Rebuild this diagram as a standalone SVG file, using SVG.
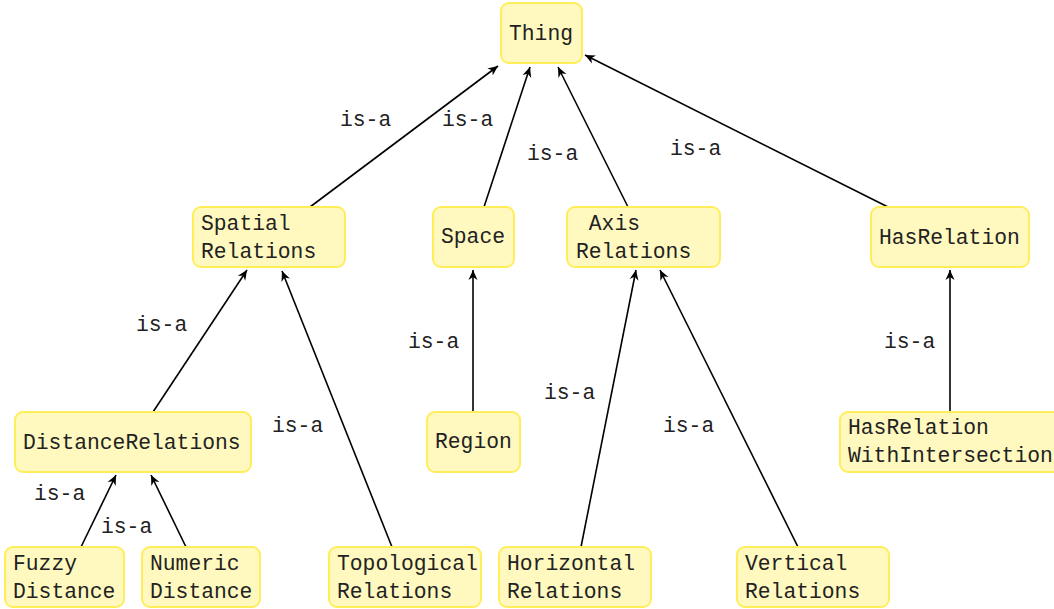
<svg xmlns="http://www.w3.org/2000/svg" width="1054" height="609" viewBox="0 0 1054 609">
<defs>
<style>
.node rect{fill:#fff9c0;stroke:#ffee5a;stroke-width:2}
.node text,.lbl{font-family:"Liberation Mono","Courier New",monospace;font-size:21.33px;fill:#222}
.edge{stroke:#000;stroke-width:1.6;fill:none;marker-end:url(#arr)}
</style>
<marker id="arr" markerUnits="userSpaceOnUse" markerWidth="12" markerHeight="10" refX="10" refY="4.5" orient="auto" viewBox="0 0 12 9">
<path d="M0,0 L10,4.5 L0,9 L3,4.5 z" fill="#000"/>
</marker>
</defs>
<rect width="1054" height="609" fill="#fff"/>
<g id="connectors">
<line class="edge" x1="310" y1="207" x2="498" y2="66"/>
<line class="edge" x1="484" y1="207" x2="530" y2="67"/>
<line class="edge" x1="628" y1="207" x2="558" y2="67"/>
<line class="edge" x1="888" y1="207" x2="585" y2="55"/>
<line class="edge" x1="153" y1="412" x2="247" y2="270"/>
<line class="edge" x1="392" y1="547" x2="282" y2="271"/>
<line class="edge" x1="473" y1="412" x2="473" y2="270"/>
<line class="edge" x1="581" y1="547" x2="636" y2="270"/>
<line class="edge" x1="798" y1="547" x2="660" y2="270"/>
<line class="edge" x1="950" y1="412" x2="950" y2="270"/>
<line class="edge" x1="81" y1="547" x2="116" y2="475"/>
<line class="edge" x1="186" y1="547" x2="151" y2="475"/>
<text class="lbl" x="340" y="126">is-a</text>
<text class="lbl" x="442" y="126">is-a</text>
<text class="lbl" x="527" y="160">is-a</text>
<text class="lbl" x="670" y="155">is-a</text>
<text class="lbl" x="136" y="331">is-a</text>
<text class="lbl" x="272" y="432">is-a</text>
<text class="lbl" x="408" y="348">is-a</text>
<text class="lbl" x="544" y="399">is-a</text>
<text class="lbl" x="663" y="432">is-a</text>
<text class="lbl" x="884" y="348">is-a</text>
<text class="lbl" x="34" y="500">is-a</text>
<text class="lbl" x="101" y="533">is-a</text>
</g>
<g id="thing" class="node"><rect x="501" y="3" width="81" height="60" rx="8"/><text x="509" y="40">Thing</text></g>
<g id="spatial" class="node"><rect x="193" y="207" width="152" height="60" rx="8"/><text x="201" y="230">Spatial</text><text x="201" y="258">Relations</text></g>
<g id="space" class="node"><rect x="433" y="207" width="81" height="60" rx="8"/><text x="441" y="243">Space</text></g>
<g id="axis" class="node"><rect x="567" y="207" width="153" height="60" rx="8"/><text x="576" y="230" xml:space="preserve"> Axis</text><text x="576" y="258">Relations</text></g>
<g id="hasrelation" class="node"><rect x="871" y="207" width="158" height="60" rx="8"/><text x="879" y="244">HasRelation</text></g>
<g id="distance" class="node"><rect x="15" y="412" width="236" height="60" rx="8"/><text x="23" y="449">DistanceRelations</text></g>
<g id="region" class="node"><rect x="427" y="412" width="93" height="60" rx="8"/><text x="435" y="448">Region</text></g>
<g id="hasrelwith" class="node"><rect x="840" y="412" width="226" height="60" rx="8"/><text x="848" y="434">HasRelation</text><text x="848" y="462">WithIntersection</text></g>
<g id="fuzzy" class="node"><rect x="5" y="547" width="119" height="60" rx="8"/><text x="13" y="570">Fuzzy</text><text x="13" y="598">Distance</text></g>
<g id="numeric" class="node"><rect x="142" y="547" width="118" height="60" rx="8"/><text x="150" y="570">Numeric</text><text x="150" y="598">Distance</text></g>
<g id="topological" class="node"><rect x="329" y="547" width="152" height="60" rx="8"/><text x="337" y="570">Topological</text><text x="337" y="598">Relations</text></g>
<g id="horizontal" class="node"><rect x="499" y="547" width="152" height="60" rx="8"/><text x="507" y="570">Horizontal</text><text x="507" y="598">Relations</text></g>
<g id="vertical" class="node"><rect x="737" y="547" width="152" height="60" rx="8"/><text x="745" y="570">Vertical</text><text x="745" y="598">Relations</text></g>
</svg>
